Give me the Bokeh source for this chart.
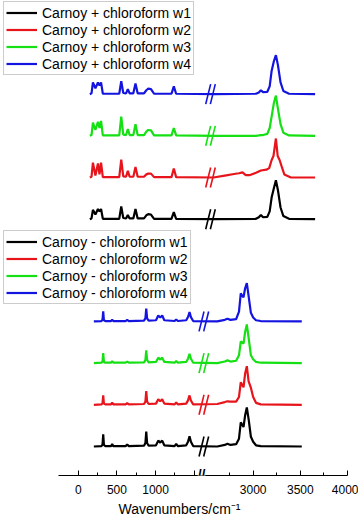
import numpy as np
from bokeh.plotting import figure
from bokeh.models import Range1d, FixedTicker, Legend, LegendItem, Label, ColumnDataSource
from bokeh.embed import file_html
from bokeh.resources import INLINE

# ---------------- data (wavenumbers / normalised intensity) ----------------
labels_plus = ["Carnoy + chloroform w1", "Carnoy + chloroform w2",
               "Carnoy + chloroform w3", "Carnoy + chloroform w4"]
labels_minus = ["Carnoy - chloroform w1", "Carnoy - chloroform w2",
                "Carnoy - chloroform w3", "Carnoy - chloroform w4"]

# upper group (Carnoy + chloroform)
plus_x_left = [150, 172, 190, 222, 255, 275, 295, 318, 530, 556, 582, 618, 641, 664,
               712, 740, 768, 850, 880, 905, 940, 980, 1205, 1235, 1265]
plus_x_right = [2600, 3030, 3060, 3082, 3105, 3150, 3175, 3196, 3220, 3241, 3262,
                3290, 3320, 3380, 3656]
plus_w2_x_right = [2580, 2700, 2798, 2850, 2887, 2922, 2960, 3030, 3082, 3140, 3170,
                   3196, 3215, 3241, 3260, 3280, 3300, 3330, 3400, 3656]

plus_w1_left = [0, 0.02, 0.24, 0.12, 0.26, 0.2, 0.26, 0.01, 0.01, 0.33, 0.03, 0.02, 0.11,
                0.02, 0.02, 0.26, 0.02, 0.02, 0.1, 0.13, 0.12, 0.01, 0.01, 0.18, 0.01]
plus_w2_left = [0, 0.02, 0.38, 0.05, 0.36, 0.08, 0.38, 0.01, 0.01, 0.46, 0.03, 0.02, 0.17,
                0.02, 0.02, 0.27, 0.02, 0.02, 0.08, 0.1, 0.1, 0.01, 0.01, 0.23, 0.01]
plus_w3_left = [0, 0.02, 0.34, 0.15, 0.36, 0.2, 0.38, 0.01, 0.01, 0.49, 0.03, 0.02, 0.17,
                0.02, 0.02, 0.3, 0.02, 0.02, 0.11, 0.15, 0.14, 0.01, 0.01, 0.2, 0.01]
plus_w4_left = [0, 0.02, 0.3, 0.15, 0.3, 0.22, 0.3, 0.01, 0.01, 0.33, 0.03, 0.02, 0.13,
                0.02, 0.02, 0.27, 0.02, 0.02, 0.1, 0.14, 0.13, 0.01, 0.01, 0.2, 0.01]

plus_w1_right = [0, 0.01, 0.05, 0.11, 0.05, 0.06, 0.2, 0.56, 0.8, 1.0, 0.75, 0.3, 0.08, 0.01, 0]
plus_w2_right = [0, 0.05, 0.09, 0.11, 0.13, 0.06, 0.06, 0.12, 0.18, 0.2, 0.24, 0.45, 0.55,
                 1.0, 0.55, 0.45, 0.3, 0.08, 0.0, 0]
plus_w3_right = [0, 0, 0.01, 0.02, 0.02, 0.05, 0.2, 0.5, 0.85, 1.03, 0.7, 0.3, 0.08, 0.01, 0]
plus_w4_right = [0, 0.01, 0.04, 0.1, 0.05, 0.06, 0.2, 0.6, 0.85, 1.0, 0.75, 0.3, 0.08, 0.01, 0]

# lower group (Carnoy - chloroform)
minus_x_left = [202, 300, 314, 323, 332, 350, 425, 439, 453, 612, 633, 654, 850, 868, 879,
                890, 910, 1005, 1034, 1060, 1085, 1112, 1245, 1266, 1287, 1395, 1420, 1438,
                1456, 1485]
minus_x_right = [2620, 2700, 2728, 2760, 2820, 2850, 2869, 2885, 2898, 2915, 2933, 2952,
                 2976, 3000, 3030, 3080, 3515]

minus_w1_left = [0, 0.01, 0.05, 0.31, 0.04, 0.01, 0.01, 0.06, 0.01, 0.01, 0.05, 0.01, 0.02,
                 0.09, 0.38, 0.09, 0.02, 0.03, 0.15, 0.1, 0.15, 0.03, 0.01, 0.07, 0.01, 0.03,
                 0.13, 0.26, 0.12, 0.01]
minus_w2_left = [0, 0.01, 0.04, 0.24, 0.03, 0.01, 0.01, 0.06, 0.01, 0.01, 0.04, 0.01, 0.02,
                 0.08, 0.35, 0.08, 0.02, 0.03, 0.14, 0.09, 0.14, 0.03, 0.01, 0.06, 0.01, 0.03,
                 0.12, 0.24, 0.11, 0.01]
minus_w3_left = [0, 0.01, 0.04, 0.26, 0.03, 0.01, 0.01, 0.05, 0.01, 0.01, 0.04, 0.01, 0.02,
                 0.08, 0.33, 0.08, 0.02, 0.03, 0.14, 0.09, 0.14, 0.03, 0.01, 0.05, 0.01, 0.03,
                 0.12, 0.24, 0.11, 0.01]
minus_w4_left = [0, 0.01, 0.04, 0.26, 0.03, 0.01, 0.01, 0.04, 0.01, 0.01, 0.04, 0.01, 0.02,
                 0.08, 0.33, 0.08, 0.02, 0.03, 0.15, 0.1, 0.15, 0.03, 0.01, 0.05, 0.01, 0.03,
                 0.12, 0.24, 0.11, 0.01]

minus_w1_right = [0, 0.04, 0.07, 0.04, 0.06, 0.2, 0.62, 0.55, 0.5, 0.8, 1.0, 0.7, 0.25, 0.12,
                  0.03, 0.01, 0]
minus_w2_right = [0.02, 0.07, 0.09, 0.08, 0.08, 0.2, 0.58, 0.5, 0.45, 0.8, 0.99, 0.6, 0.44,
                  0.2, 0.05, 0.01, 0]
minus_w3_right = [0, 0.04, 0.07, 0.04, 0.06, 0.2, 0.56, 0.52, 0.5, 0.8, 0.99, 0.65, 0.2, 0.1,
                  0.03, 0.01, 0]
minus_w4_right = [0, 0.04, 0.07, 0.04, 0.06, 0.25, 0.72, 0.65, 0.62, 0.85, 0.98, 0.65, 0.22,
                  0.1, 0.03, 0.01, 0]

tick_values = [0, 500, 1000, 1500, 3000, 3500, 4000]
tick_labels = ["0", "500", "1000", "", "3000", "3500", "4000"]
minor_values = [250, 750, 1250, 2750, 3250, 3750]

colors = ["#000000", "#e8141c", "#14e014", "#1414e0"]

# ---------------- broken-axis transform ----------------
BREAK_LO, BREAK_HI = 1550.0, 2500.0
GAP = 100.0
RIGHT_SCALE = 1.22


def to_u(x):
    x = np.asarray(x, dtype=float)
    return np.where(x <= BREAK_LO, x,
                    np.where(x < BREAK_HI,
                             BREAK_LO + (x - BREAK_LO) * GAP / (BREAK_HI - BREAK_LO),
                             BREAK_LO + GAP + (x - BREAK_HI) * RIGHT_SCALE))


# ---------------- figure ----------------
Y0, Y1 = -0.744, 11.436
p = figure(width=358, height=521, output_backend="svg", toolbar_location=None,
           x_range=Range1d(-1004, 3621), y_range=Range1d(Y0, Y1),
           y_axis_location=None, min_border_left=0, min_border_right=0,
           min_border_top=0, min_border_bottom=46)
p.outline_line_color = None
p.xgrid.visible = False
p.ygrid.visible = False
p.background_fill_color = "white"
p.border_fill_color = "white"

FONT = "Liberation Sans"
SPACING = 1.069
plus_offsets = [5.828 + i * SPACING for i in range(4)]
minus_offsets = [i * SPACING for i in range(4)]

plus_series = [
    (plus_x_left + plus_x_right, plus_w1_left + plus_w1_right),
    (plus_x_left + plus_w2_x_right, plus_w2_left + plus_w2_right),
    (plus_x_left + plus_x_right, plus_w3_left + plus_w3_right),
    (plus_x_left + plus_x_right, plus_w4_left + plus_w4_right),
]
minus_series = [
    (minus_x_left + minus_x_right, minus_w1_left + minus_w1_right),
    (minus_x_left + minus_x_right, minus_w2_left + minus_w2_right),
    (minus_x_left + minus_x_right, minus_w3_left + minus_w3_right),
    (minus_x_left + minus_x_right, minus_w4_left + minus_w4_right),
]

plus_r, minus_r = [], []
for (xs, ys), off, c in zip(plus_series, plus_offsets, colors):
    plus_r.append(p.line(to_u(xs), np.asarray(ys) + off, line_color=c, line_width=2.2))
for (xs, ys), off, c in zip(minus_series, minus_offsets, colors):
    minus_r.append(p.line(to_u(xs), np.asarray(ys) + off, line_color=c, line_width=2.2))

# break marks "//" on each trace
HW, HH, OFF = 32.0, 0.256, 30.0


def add_breaks(center_u, offsets):
    x0, y0, x1, y1, cs = [], [], [], [], []
    for off, c in zip(offsets, colors):
        for d in (-OFF, OFF):
            x0.append(center_u + d - HW); y0.append(off - HH)
            x1.append(center_u + d + HW); y1.append(off + HH)
            cs.append(c)
    src = ColumnDataSource(dict(x0=x0, y0=y0, x1=x1, y1=y1, c=cs))
    p.segment("x0", "y0", "x1", "y1", source=src, line_color="c", line_width=1.6)


add_breaks(1709.0, plus_offsets)
add_breaks(1623.0, minus_offsets)

# ---------------- axis ----------------
ax = p.xaxis[0]
ax.ticker = FixedTicker(ticks=[float(v) for v in to_u(tick_values)],
                        minor_ticks=[float(v) for v in to_u(minor_values)])
ax.major_label_overrides = {float(u): lab for u, lab in zip(to_u(tick_values), tick_labels)}
ax.bounds = (-254, float(to_u(4000)))
ax.major_tick_in = 5
ax.major_tick_out = 0
ax.minor_tick_in = 3
ax.minor_tick_out = 0
ax.axis_line_color = "black"
ax.major_tick_line_color = "black"
ax.minor_tick_line_color = "black"
ax.major_label_standoff = 9
ax.major_label_text_font = FONT
ax.major_label_text_font_size = "12px"
ax.major_label_text_color = "black"
ax.axis_label = "Wavenumbers/cm\u207b\u00b9"
ax.axis_label_text_font = FONT
ax.axis_label_text_font_size = "14px"
ax.axis_label_text_font_style = "normal"
ax.axis_label_text_color = "black"
ax.axis_label_standoff = 4

p.add_layout(Label(x=1593, y=Y0, text="//", text_align="center", text_baseline="middle",
                   text_font=FONT, text_font_size="14px", text_font_style="bold",
                   text_color="#000000", background_fill_color="white", y_offset=1))

# ---------------- legends ----------------


def make_legend(labels, renderers, loc):
    leg = Legend(items=[LegendItem(label=l, renderers=[r]) for l, r in zip(labels, renderers)],
                 location=loc, orientation="vertical")
    leg.label_text_font = FONT
    leg.label_text_font_size = "14px"
    leg.label_text_color = "black"
    leg.glyph_width = 31
    leg.glyph_height = 17
    leg.label_height = 17
    leg.label_standoff = 5
    leg.spacing = 0
    leg.padding = 2
    leg.margin = 0
    leg.border_line_color = "#9a9a9a"
    leg.border_line_width = 1
    leg.background_fill_alpha = 1
    return leg


p.add_layout(make_legend(labels_plus, plus_r, (3, 400)), "center")
p.add_layout(make_legend(labels_minus, minus_r, (3, 171)), "center")

open("out.html", "w").write(file_html(p, INLINE))
